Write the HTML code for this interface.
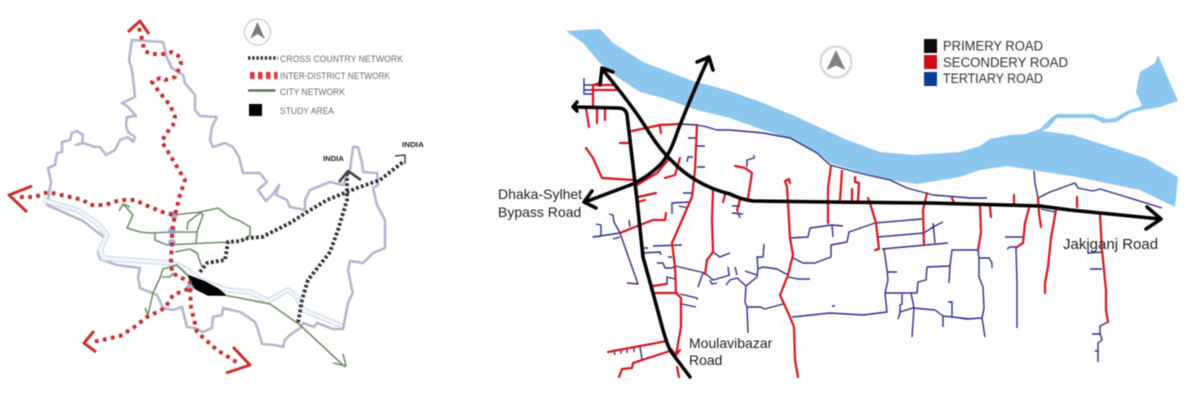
<!DOCTYPE html>
<html><head><meta charset="utf-8"><style>
html,body{margin:0;padding:0;background:#fff;width:1198px;height:400px;overflow:hidden}
svg{display:block;filter:blur(.4px)}
path{fill:none;stroke-linejoin:round}
.b{stroke:#b9b4cf;stroke-width:2.6}
.g{stroke:#6f9064;stroke-width:1.6}
.r{stroke:#c8302f;stroke-width:4;stroke-dasharray:3.8 4.4}
.rh{stroke:#c8302f;stroke-width:3}
.d{stroke:#333;stroke-width:3.8;stroke-dasharray:2.8 2.3}
.k{stroke:#000;stroke-width:3.5;stroke-linecap:round}
.s{stroke:#d8161f;stroke-width:2.2;stroke-linecap:round}
.t{stroke:#2f3186;stroke-width:1.4}
text{font-family:"Liberation Sans",sans-serif}
.l{font-size:9.5px;fill:#6a6a6a}
.n{font-size:14px;fill:#222}
.e{font-size:13.5px;fill:#333}
</style></head><body>
<svg width="1198" height="400" viewBox="0 0 1198 400" xmlns="http://www.w3.org/2000/svg">
<!-- LEFT MAP -->
<path class="b" d="M47 205L51 182L48 168L55 165L57 153L62 152L62 142L70 140L72 133L77 131L83 135L82 143L76 145L83 143L95 147L100 147L106 155L115 150L120 140L128 137L133 142L135 137L128 132L126 125L127 117L136 116L128 107L122 103L135 97L132 70L129 60L132 40L163 42L167 58L172 68L183 75L185 83L195 95L195 110L200 116L217 117L212 127L210 140L213 147L225 143L233 147L239 157L243 173L260 173L267 182L258 190L263 197L266 201L272 195L279 185L276 195L287 200L290 207L305 210L305 200L310 190L330 182L343 185L350 170L353 147L358 147L362 163L363 172L377 173L378 185L373 188L377 205L385 220L385 248L373 253L363 263L350 261L348 270L352 290L353 292L348 303L343 329L333 329L317 323L314 327L303 323L300 328L290 335L285 340L283 347L275 345L262 344L258 330L255 322L245 315L240 312L223 308L222 315L213 317L212 328L203 332L195 328L187 327L182 307L173 310L163 308L157 295L140 288L138 277L140 268L117 265L100 259L98 252L105 238L83 221L47 205Z"/>
<path d="M43 200L77 210L97 223L107 235L100 250L103 258L127 260L173 263L183 267L200 280L227 290L250 292L268 301L288 290L297 297L303 310L342 326" stroke="#c8d6e8" stroke-width="5.500"/>
<path d="M43 200L77 210L97 223L107 235L100 250L103 258L127 260L173 263L183 267L200 280L227 290L250 292L268 301L288 290L297 297L303 310L342 326" stroke="#f0f6fb" stroke-width="3.500"/>
<path class="g" d="M119 211L123 204L130 207M123 204L133 215L127 228L140 232L150 233L173 232L197 232M173 215L200 212L218 208L230 217L240 221L250 227L250 235L245 240M200 212L203 215L197 232L196 243M187 230L188 222L200 213M155 233L155 240L167 245L227 242M175 252L190 249L197 253L202 267"/>
<path class="g" d="M145 308L148 315L153 293L160 278L163 269L177 265L190 278M162 277L170 277L173 273M223 295L240 298L270 304L300 325L345 367M333 363L346 366L343 354"/>
<path d="M189 276L205 282L218 289L225 295L208 295L196 289L191 283Z" style="fill:#000" stroke="#000" stroke-width="1.500"/>
<g fill="#8e8ecf" opacity=".7"><circle cx="174" cy="215" r="4"/><circle cx="172" cy="231" r="4"/><circle cx="172" cy="243" r="4"/><circle cx="190" cy="288" r="4"/></g>
<path class="r" d="M139 28L143 43L144 50L150 54L165 54L172 52L180 57L181 64L178 71L175 77L165 80L160 78L152 82L160 93L170 105L175 117L173 125L165 135L162 142L170 155L180 172L185 180L180 195L175 215L172 232L172 243L171 260L172 273L180 277L190 282L190 288L191 307L197 332L217 350L238 363"/>
<path class="r" d="M20 197L35 197L48 192L70 197L83 200L90 205L105 205L120 200L135 200L150 207L165 213L175 215"/>
<path class="r" d="M188 289L173 295L165 308L147 317L133 328L120 336L93 342"/>
<path class="rh" d="M128 32L140 21L149 34M32 186L9 195L27 212M94 331L84 343L96 352M233 347L250 365L226 373"/>
<path class="d" d="M200 272L207 263L225 260L228 242L240 241L248 238L262 237L290 223L307 212L327 200L357 188L380 180L403 162"/>
<path class="d" d="M347 173L347 200L338 230L330 252L308 280L302 300L298 323"/>
<path d="M395 156L405 155L405 164" stroke="#444" stroke-width="1.500"/>
<path d="M339 182L348 171L361 180" stroke="#444" stroke-width="2.600"/>
<circle cx="257.500" cy="32" r="13" fill="#fff" stroke="#bbb" stroke-width="1"/>
<polygon points="257.500,22 250,39 257.500,34 265,39" fill="#7b7b7b"/>
<path d="M248 58H278" stroke="#333" stroke-width="3.400" stroke-dasharray="2.400 1.800"/>
<path d="M250 75.500H277.500" stroke="#e8353a" stroke-width="7" stroke-dasharray="4.500 3.500"/>
<path d="M248 90.500H275.500" stroke="#5c7a52" stroke-width="2.600"/>
<rect x="249" y="104" width="13" height="12" fill="#000"/>
<text class="l" x="280" y="62" textLength="123" lengthAdjust="spacingAndGlyphs">CROSS COUNTRY NETWORK</text>
<text class="l" x="280" y="79" textLength="110" lengthAdjust="spacingAndGlyphs">INTER-DISTRICT NETWORK</text>
<text class="l" x="280" y="95" textLength="65" lengthAdjust="spacingAndGlyphs">CITY NETWORK</text>
<text class="l" x="280" y="114" textLength="54" lengthAdjust="spacingAndGlyphs">STUDY AREA</text>
<text x="323" y="161" font-size="7.500" font-weight="bold" fill="#222" textLength="21" lengthAdjust="spacingAndGlyphs">INDIA</text>
<text x="402" y="147" font-size="7.500" font-weight="bold" fill="#222" textLength="22" lengthAdjust="spacingAndGlyphs">INDIA</text>
<!-- RIGHT MAP -->
<rect x="490" y="27" width="688" height="350" fill="#fdfdfd"/>
<rect x="802" y="36" width="68" height="50" fill="#fff"/>
<polygon fill="#8cc7f0" points="566,31 600,29 613,43 643,62 690,80 730,91 763,103 797,117 847,140 880,152 913,155 960,152 980,146 990,139 1010,135 1025,134 1040,129 1052,117 1057,114 1093,114 1107,119 1115,118 1127,111 1142,106 1136,92 1140,72 1155,63 1158,55 1178,101 1160,107 1143,110 1130,113 1117,122 1103,123 1093,118 1057,118 1048,128 1042,131 1073,135 1145,158 1178,177 1175,207 1140,190 1077,177 1007,166 980,170 960,177 917,184 890,180 863,173 830,163 817,152 790,138 763,130 730,118 697,110 663,98 640,92 617,77 600,63 583,43"/>
<circle cx="836" cy="62" r="15.500" fill="#fff" stroke="#d8d8d8" stroke-width="2.400"/>
<polygon points="836,50 826.500,70 836,65.500 845.500,70" fill="#808080"/>
<rect x="924" y="39" width="13" height="14" fill="#0c0c0c"/>
<rect x="924" y="55" width="13" height="14" fill="#cf0a14"/>
<rect x="924" y="72" width="13" height="14" fill="#073f96"/>
<text class="e" x="943" y="50.500" textLength="100" lengthAdjust="spacingAndGlyphs">PRIMERY ROAD</text>
<text class="e" x="943" y="67" textLength="125" lengthAdjust="spacingAndGlyphs">SECONDERY ROAD</text>
<text class="e" x="943" y="83" textLength="100" lengthAdjust="spacingAndGlyphs">TERTIARY ROAD</text>
<!-- tertiary -->
<path class="t" d="M680 124L697 125L707 127L717 130L730 130L763 133L790 138L817 153L830 165L863 174L890 180L907 188L933 195L970 198L987 198"/>
<path class="t" d="M1034 171L1035 183L1038 198L1050 192L1075 183L1078 188L1093 191L1100 189L1120 195L1162 208"/>
<path class="t" d="M584 78L584 94L593 94M584 85L592 85M584 90L593 90"/>
<path class="t" d="M688 138H697M697 146H705M687 162L688 157H693M697 167H705M683 193H692M672 214L672 203L690 202M679 206L688 208"/>
<path class="t" d="M609 214L613 215L614 222L620 233L638 284L627 283M596 224L601 225L601 236L593 237L620 233M613 239L620 237M629 220L630 227"/>
<path class="t" d="M644 248H648M653 246L682 245M643 253L660 252L661 255M668 257H672M657 263L663 263L665 268L672 268L675 266L705 273L713 280L720 278L730 275M667 285L667 277L675 279M703 273L698 287M680 294L697 298L697 300M682 304L696 307M713 252L720 257L730 253M710 280L712 284L717 283M728 267L729 275M726 285L730 280"/>
<path class="t" d="M614 351L615 355M621 350V354M627 349V353M634 348V352M640 347L642 359"/>
<path class="t" d="M732 213L743 214M740 200L737 210L740 218M732 206H740M747 167L747 160L754 158L754 155"/>
<path class="t" d="M791 238L808 237L810 228L832 225L843 226M832 225L833 237M793 258L803 263L815 263L831 257L831 245L847 242L849 232L875 223L922 219M878 237L924 233L933 227L943 222M933 223L935 243M882 249L948 243M884 249L887 270L888 280L885 293L887 312L863 315L830 313L802 316L792 317M887 272H897M885 293L917 293L918 282L926 280L927 267L950 266L952 250L970 250L978 250L979 258L979 277L983 287L984 308L982 318L985 337M950 266L949 283"/>
<path class="t" d="M902 294V304L900 305V313L898 319M911 293L914 308L912 337M900 312L913 308L935 310L943 316L970 319M943 316V327M948 302H952V317"/>
<path class="t" d="M788 277L798 279L810 279M788 275L777 269L763 267L758 269L757 277L746 286L737 278L730 280M745 271L757 275M758 269L757 257L763 257L764 244M746 286L745 302L747 307L760 307L765 309L783 304M747 307L748 333M735 267L737 275"/>
<path class="t" d="M835 306H832M1041 209L1055 212M1005 237H1023M1007 249L1010 247L1017 247L1016 248L1017 283L1017 328M979 258H989L992 263V268M960 318L967 319L982 318M1088 249V253L1102 252M1090 269L1102 269M1108 322L1100 326L1100 333L1102 340L1098 343V362M1092 334H1100M1095 351H1098"/>
<!-- secondary -->
<path class="s" d="M600 83L593 85L593 107M593 85L615 85M593 90L616 90M586 108L589 127M597 108V123M605 108V120"/>
<path class="s" d="M632 131L660 125L680 124M660 127L661 133M620 143L628 143M586 148L593 158L602 178L633 180M637 185L657 173L668 160M665 178L675 175L680 158"/>
<path class="s" d="M697 125L695 170L692 197L672 243L675 267L676 293L681 298L681 327L676 355M672 350L676 355L680 350M638 197L656 193M638 202L645 200"/>
<path class="s" d="M713 190L712 220L713 252L707 260L705 274M723 202L725 195M620 233L640 225L653 220L665 220L666 213M653 286L666 284M655 293L677 293"/>
<path class="s" d="M608 352L667 341M633 363L670 351M633 363L632 368L622 369L619 377M677 367L679 377"/>
<path class="s" d="M735 166L745 168L752 173L748 198M740 200L737 210"/>
<path class="s" d="M790 183L789 179L785 181L787 187L788 202L790 238L793 255L788 275L780 295L790 317L794 327L795 360L798 377"/>
<path class="s" d="M831 166L828 188L828 223M842 171L840 200M852 189L852 200M855 177L855 182L859 183L858 200M868 198L870 203L876 223L879 249L875 250M927 193L923 210L924 245M952 198L954 203"/>
<path class="s" d="M980 207L981 232L978 250M990 207L991 217M1014 195V205M1029 208L1025 223L1023 243L1017 247M1038 198L1039 213L1041 227M1056 210L1051 238L1048 267L1045 283V293M1077 197V207M1100 215L1102 250L1106 290V310L1108 322"/>
<!-- primary -->
<path class="k" d="M603 70C615 85 630 103 643 123C652 137 660 150 672 161C685 175 705 188 730 194C738 198 745 200 753 201L830 202L930 203L1040 206L1070 210L1160 219M1147 207L1161 219L1146 229"/>
<path class="k" d="M600 85L602 68L613 72"/>
<path class="k" d="M574 107L618 108Q626 108 627 115L630 140L637 200L643 257L653 293L663 330C666 340 668 347 672 353L690 377M577 102L573 107L577 111"/>
<path class="k" d="M709 57C697 83 690 100 678 130C672 148 668 156 660 165C650 175 640 180 633 184L585 202M697 62L709 57L713 70M592 191L584 202L596 208"/>
<text class="n" x="498" y="199">Dhaka-Sylhet</text>
<text class="n" x="498" y="217">Bypass Road</text>
<text class="n" x="689" y="348">Moulavibazar</text>
<text class="n" x="689" y="365">Road</text>
<text class="n" x="1063" y="249" style="font-size:15px">Jakiganj Road</text>
</svg>
</body></html>
